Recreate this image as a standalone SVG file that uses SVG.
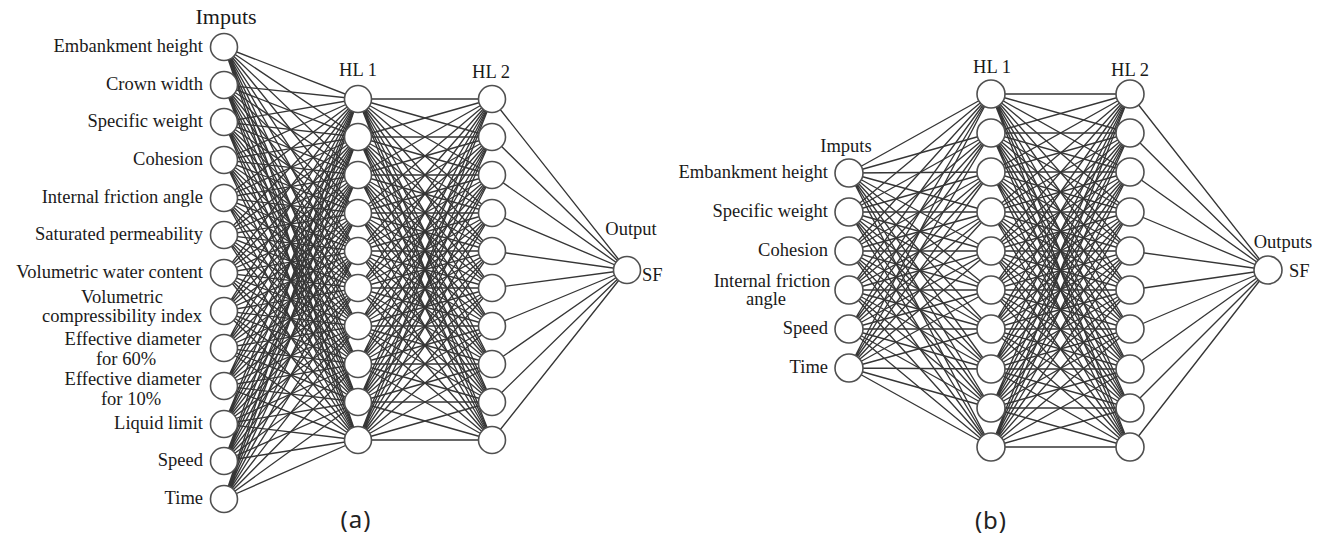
<svg xmlns="http://www.w3.org/2000/svg" width="1326" height="538" viewBox="0 0 1326 538">
<style>
.c{fill:none;stroke:#363636;stroke-width:1.35}
.n{fill:#fff;stroke:#505050;stroke-width:1.6}
.t{font-family:"Liberation Serif","Times New Roman",serif;font-size:18.5px;fill:#1a1a1a}
.e{text-anchor:end}
.m{text-anchor:middle}
.s{font-family:"Noto Sans","Open Sans",sans-serif;font-size:24px;fill:#222;text-anchor:middle;letter-spacing:1px}
</style>
<rect width="1326" height="538" fill="#fff"/>
<g id="connectors">
<g id="conn-a">
<path class="c" d="M224 47L358 99M224 47L358 137M224 47L358 175M224 47L358 213M224 47L358 251M224 47L358 288M224 47L358 326M224 47L358 364M224 47L358 402M224 47L358 440"/>
<path class="c" d="M224 85L358 99M224 85L358 137M224 85L358 175M224 85L358 213M224 85L358 251M224 85L358 288M224 85L358 326M224 85L358 364M224 85L358 402M224 85L358 440"/>
<path class="c" d="M224 122L358 99M224 122L358 137M224 122L358 175M224 122L358 213M224 122L358 251M224 122L358 288M224 122L358 326M224 122L358 364M224 122L358 402M224 122L358 440"/>
<path class="c" d="M224 160L358 99M224 160L358 137M224 160L358 175M224 160L358 213M224 160L358 251M224 160L358 288M224 160L358 326M224 160L358 364M224 160L358 402M224 160L358 440"/>
<path class="c" d="M224 198L358 99M224 198L358 137M224 198L358 175M224 198L358 213M224 198L358 251M224 198L358 288M224 198L358 326M224 198L358 364M224 198L358 402M224 198L358 440"/>
<path class="c" d="M224 235L358 99M224 235L358 137M224 235L358 175M224 235L358 213M224 235L358 251M224 235L358 288M224 235L358 326M224 235L358 364M224 235L358 402M224 235L358 440"/>
<path class="c" d="M224 273L358 99M224 273L358 137M224 273L358 175M224 273L358 213M224 273L358 251M224 273L358 288M224 273L358 326M224 273L358 364M224 273L358 402M224 273L358 440"/>
<path class="c" d="M224 311L358 99M224 311L358 137M224 311L358 175M224 311L358 213M224 311L358 251M224 311L358 288M224 311L358 326M224 311L358 364M224 311L358 402M224 311L358 440"/>
<path class="c" d="M224 348L358 99M224 348L358 137M224 348L358 175M224 348L358 213M224 348L358 251M224 348L358 288M224 348L358 326M224 348L358 364M224 348L358 402M224 348L358 440"/>
<path class="c" d="M224 386L358 99M224 386L358 137M224 386L358 175M224 386L358 213M224 386L358 251M224 386L358 288M224 386L358 326M224 386L358 364M224 386L358 402M224 386L358 440"/>
<path class="c" d="M224 424L358 99M224 424L358 137M224 424L358 175M224 424L358 213M224 424L358 251M224 424L358 288M224 424L358 326M224 424L358 364M224 424L358 402M224 424L358 440"/>
<path class="c" d="M224 461L358 99M224 461L358 137M224 461L358 175M224 461L358 213M224 461L358 251M224 461L358 288M224 461L358 326M224 461L358 364M224 461L358 402M224 461L358 440"/>
<path class="c" d="M224 499L358 99M224 499L358 137M224 499L358 175M224 499L358 213M224 499L358 251M224 499L358 288M224 499L358 326M224 499L358 364M224 499L358 402M224 499L358 440"/>
<path class="c" d="M358 99L492 99M358 99L492 137M358 99L492 175M358 99L492 213M358 99L492 251M358 99L492 288M358 99L492 326M358 99L492 364M358 99L492 402M358 99L492 440"/>
<path class="c" d="M358 137L492 99M358 137L492 137M358 137L492 175M358 137L492 213M358 137L492 251M358 137L492 288M358 137L492 326M358 137L492 364M358 137L492 402M358 137L492 440"/>
<path class="c" d="M358 175L492 99M358 175L492 137M358 175L492 175M358 175L492 213M358 175L492 251M358 175L492 288M358 175L492 326M358 175L492 364M358 175L492 402M358 175L492 440"/>
<path class="c" d="M358 213L492 99M358 213L492 137M358 213L492 175M358 213L492 213M358 213L492 251M358 213L492 288M358 213L492 326M358 213L492 364M358 213L492 402M358 213L492 440"/>
<path class="c" d="M358 251L492 99M358 251L492 137M358 251L492 175M358 251L492 213M358 251L492 251M358 251L492 288M358 251L492 326M358 251L492 364M358 251L492 402M358 251L492 440"/>
<path class="c" d="M358 288L492 99M358 288L492 137M358 288L492 175M358 288L492 213M358 288L492 251M358 288L492 288M358 288L492 326M358 288L492 364M358 288L492 402M358 288L492 440"/>
<path class="c" d="M358 326L492 99M358 326L492 137M358 326L492 175M358 326L492 213M358 326L492 251M358 326L492 288M358 326L492 326M358 326L492 364M358 326L492 402M358 326L492 440"/>
<path class="c" d="M358 364L492 99M358 364L492 137M358 364L492 175M358 364L492 213M358 364L492 251M358 364L492 288M358 364L492 326M358 364L492 364M358 364L492 402M358 364L492 440"/>
<path class="c" d="M358 402L492 99M358 402L492 137M358 402L492 175M358 402L492 213M358 402L492 251M358 402L492 288M358 402L492 326M358 402L492 364M358 402L492 402M358 402L492 440"/>
<path class="c" d="M358 440L492 99M358 440L492 137M358 440L492 175M358 440L492 213M358 440L492 251M358 440L492 288M358 440L492 326M358 440L492 364M358 440L492 402M358 440L492 440"/>
<path class="c" d="M492 99L627 270M492 137L627 270M492 175L627 270M492 213L627 270M492 251L627 270M492 288L627 270M492 326L627 270M492 364L627 270M492 402L627 270M492 440L627 270"/>
</g>
<g id="conn-b">
<path class="c" d="M849 173L991 94M849 173L991 133M849 173L991 172M849 173L991 212M849 173L991 251M849 173L991 290M849 173L991 329M849 173L991 369M849 173L991 408M849 173L991 447"/>
<path class="c" d="M849 212L991 94M849 212L991 133M849 212L991 172M849 212L991 212M849 212L991 251M849 212L991 290M849 212L991 329M849 212L991 369M849 212L991 408M849 212L991 447"/>
<path class="c" d="M849 251L991 94M849 251L991 133M849 251L991 172M849 251L991 212M849 251L991 251M849 251L991 290M849 251L991 329M849 251L991 369M849 251L991 408M849 251L991 447"/>
<path class="c" d="M849 290L991 94M849 290L991 133M849 290L991 172M849 290L991 212M849 290L991 251M849 290L991 290M849 290L991 329M849 290L991 369M849 290L991 408M849 290L991 447"/>
<path class="c" d="M849 329L991 94M849 329L991 133M849 329L991 172M849 329L991 212M849 329L991 251M849 329L991 290M849 329L991 329M849 329L991 369M849 329L991 408M849 329L991 447"/>
<path class="c" d="M849 368L991 94M849 368L991 133M849 368L991 172M849 368L991 212M849 368L991 251M849 368L991 290M849 368L991 329M849 368L991 369M849 368L991 408M849 368L991 447"/>
<path class="c" d="M991 94L1130 94M991 94L1130 133M991 94L1130 172M991 94L1130 212M991 94L1130 251M991 94L1130 290M991 94L1130 329M991 94L1130 369M991 94L1130 408M991 94L1130 447"/>
<path class="c" d="M991 133L1130 94M991 133L1130 133M991 133L1130 172M991 133L1130 212M991 133L1130 251M991 133L1130 290M991 133L1130 329M991 133L1130 369M991 133L1130 408M991 133L1130 447"/>
<path class="c" d="M991 172L1130 94M991 172L1130 133M991 172L1130 172M991 172L1130 212M991 172L1130 251M991 172L1130 290M991 172L1130 329M991 172L1130 369M991 172L1130 408M991 172L1130 447"/>
<path class="c" d="M991 212L1130 94M991 212L1130 133M991 212L1130 172M991 212L1130 212M991 212L1130 251M991 212L1130 290M991 212L1130 329M991 212L1130 369M991 212L1130 408M991 212L1130 447"/>
<path class="c" d="M991 251L1130 94M991 251L1130 133M991 251L1130 172M991 251L1130 212M991 251L1130 251M991 251L1130 290M991 251L1130 329M991 251L1130 369M991 251L1130 408M991 251L1130 447"/>
<path class="c" d="M991 290L1130 94M991 290L1130 133M991 290L1130 172M991 290L1130 212M991 290L1130 251M991 290L1130 290M991 290L1130 329M991 290L1130 369M991 290L1130 408M991 290L1130 447"/>
<path class="c" d="M991 329L1130 94M991 329L1130 133M991 329L1130 172M991 329L1130 212M991 329L1130 251M991 329L1130 290M991 329L1130 329M991 329L1130 369M991 329L1130 408M991 329L1130 447"/>
<path class="c" d="M991 369L1130 94M991 369L1130 133M991 369L1130 172M991 369L1130 212M991 369L1130 251M991 369L1130 290M991 369L1130 329M991 369L1130 369M991 369L1130 408M991 369L1130 447"/>
<path class="c" d="M991 408L1130 94M991 408L1130 133M991 408L1130 172M991 408L1130 212M991 408L1130 251M991 408L1130 290M991 408L1130 329M991 408L1130 369M991 408L1130 408M991 408L1130 447"/>
<path class="c" d="M991 447L1130 94M991 447L1130 133M991 447L1130 172M991 447L1130 212M991 447L1130 251M991 447L1130 290M991 447L1130 329M991 447L1130 369M991 447L1130 408M991 447L1130 447"/>
<path class="c" d="M1130 94L1268 270M1130 133L1268 270M1130 172L1268 270M1130 212L1268 270M1130 251L1268 270M1130 290L1268 270M1130 329L1268 270M1130 369L1268 270M1130 408L1268 270M1130 447L1268 270"/>
</g>
</g>
<g id="network-a" font-family="Liberation Serif, Times New Roman, serif">
<text class="t m" x="226" y="24" style="font-size:22px">Imputs</text>
<text class="t m" x="358" y="76">HL 1</text>
<text class="t m" x="491" y="78">HL 2</text>
<g id="a-in-1"><circle class="n" cx="224" cy="47" r="13.5"/><text class="t e" x="203" y="52">Embankment height</text></g>
<g id="a-in-2"><circle class="n" cx="224" cy="85" r="13.5"/><text class="t e" x="203" y="90">Crown width</text></g>
<g id="a-in-3"><circle class="n" cx="224" cy="122" r="13.5"/><text class="t e" x="203" y="127">Specific weight</text></g>
<g id="a-in-4"><circle class="n" cx="224" cy="160" r="13.5"/><text class="t e" x="203" y="165">Cohesion</text></g>
<g id="a-in-5"><circle class="n" cx="224" cy="198" r="13.5"/><text class="t e" x="203" y="203">Internal friction angle</text></g>
<g id="a-in-6"><circle class="n" cx="224" cy="235" r="13.5"/><text class="t e" x="203" y="240">Saturated permeability</text></g>
<g id="a-in-7"><circle class="n" cx="224" cy="273" r="13.5"/><text class="t e" x="203" y="278">Volumetric water content</text></g>
<g id="a-in-8"><circle class="n" cx="224" cy="311" r="13.5"/><text class="t m" x="122" y="303">Volumetric</text><text class="t m" x="122" y="322">compressibility index</text></g>
<g id="a-in-9"><circle class="n" cx="224" cy="348" r="13.5"/><text class="t m" x="133" y="345">Effective diameter</text><text class="t m" x="126" y="365">for 60%</text></g>
<g id="a-in-10"><circle class="n" cx="224" cy="386" r="13.5"/><text class="t m" x="133" y="385">Effective diameter</text><text class="t m" x="131" y="405">for 10%</text></g>
<g id="a-in-11"><circle class="n" cx="224" cy="424" r="13.5"/><text class="t e" x="203" y="429">Liquid limit</text></g>
<g id="a-in-12"><circle class="n" cx="224" cy="461" r="13.5"/><text class="t e" x="203" y="466">Speed</text></g>
<g id="a-in-13"><circle class="n" cx="224" cy="499" r="13.5"/><text class="t e" x="203" y="504">Time</text></g>
<g id="a-h1-1"><circle class="n" cx="358" cy="99" r="13.5"/></g>
<g id="a-h1-2"><circle class="n" cx="358" cy="137" r="13.5"/></g>
<g id="a-h1-3"><circle class="n" cx="358" cy="175" r="13.5"/></g>
<g id="a-h1-4"><circle class="n" cx="358" cy="213" r="13.5"/></g>
<g id="a-h1-5"><circle class="n" cx="358" cy="251" r="13.5"/></g>
<g id="a-h1-6"><circle class="n" cx="358" cy="288" r="13.5"/></g>
<g id="a-h1-7"><circle class="n" cx="358" cy="326" r="13.5"/></g>
<g id="a-h1-8"><circle class="n" cx="358" cy="364" r="13.5"/></g>
<g id="a-h1-9"><circle class="n" cx="358" cy="402" r="13.5"/></g>
<g id="a-h1-10"><circle class="n" cx="358" cy="440" r="13.5"/></g>
<g id="a-h2-1"><circle class="n" cx="492" cy="99" r="13.5"/></g>
<g id="a-h2-2"><circle class="n" cx="492" cy="137" r="13.5"/></g>
<g id="a-h2-3"><circle class="n" cx="492" cy="175" r="13.5"/></g>
<g id="a-h2-4"><circle class="n" cx="492" cy="213" r="13.5"/></g>
<g id="a-h2-5"><circle class="n" cx="492" cy="251" r="13.5"/></g>
<g id="a-h2-6"><circle class="n" cx="492" cy="288" r="13.5"/></g>
<g id="a-h2-7"><circle class="n" cx="492" cy="326" r="13.5"/></g>
<g id="a-h2-8"><circle class="n" cx="492" cy="364" r="13.5"/></g>
<g id="a-h2-9"><circle class="n" cx="492" cy="402" r="13.5"/></g>
<g id="a-h2-10"><circle class="n" cx="492" cy="440" r="13.5"/></g>
<g id="a-out"><circle class="n" cx="627" cy="270" r="13.5"/><text class="t m" x="631" y="235">Output</text><text class="t" x="642" y="281">SF</text></g>
<text class="s" x="356" y="528">(a)</text>
</g>
<g id="network-b" font-family="Liberation Serif, Times New Roman, serif">
<text class="t m" x="846" y="152">Imputs</text>
<text class="t m" x="992" y="73">HL 1</text>
<text class="t m" x="1130" y="76">HL 2</text>
<g id="b-in-1"><circle class="n" cx="849" cy="173" r="14"/><text class="t e" x="828" y="178">Embankment height</text></g>
<g id="b-in-2"><circle class="n" cx="849" cy="212" r="14"/><text class="t e" x="828" y="217">Specific weight</text></g>
<g id="b-in-3"><circle class="n" cx="849" cy="251" r="14"/><text class="t e" x="828" y="256">Cohesion</text></g>
<g id="b-in-4"><circle class="n" cx="849" cy="290" r="14"/><text class="t m" x="772" y="287">Internal friction</text><text class="t m" x="766" y="305">angle</text></g>
<g id="b-in-5"><circle class="n" cx="849" cy="329" r="14"/><text class="t e" x="828" y="334">Speed</text></g>
<g id="b-in-6"><circle class="n" cx="849" cy="368" r="14"/><text class="t e" x="828" y="373">Time</text></g>
<g id="b-h1-1"><circle class="n" cx="991" cy="94" r="14"/></g>
<g id="b-h1-2"><circle class="n" cx="991" cy="133" r="14"/></g>
<g id="b-h1-3"><circle class="n" cx="991" cy="172" r="14"/></g>
<g id="b-h1-4"><circle class="n" cx="991" cy="212" r="14"/></g>
<g id="b-h1-5"><circle class="n" cx="991" cy="251" r="14"/></g>
<g id="b-h1-6"><circle class="n" cx="991" cy="290" r="14"/></g>
<g id="b-h1-7"><circle class="n" cx="991" cy="329" r="14"/></g>
<g id="b-h1-8"><circle class="n" cx="991" cy="369" r="14"/></g>
<g id="b-h1-9"><circle class="n" cx="991" cy="408" r="14"/></g>
<g id="b-h1-10"><circle class="n" cx="991" cy="447" r="14"/></g>
<g id="b-h2-1"><circle class="n" cx="1130" cy="94" r="14"/></g>
<g id="b-h2-2"><circle class="n" cx="1130" cy="133" r="14"/></g>
<g id="b-h2-3"><circle class="n" cx="1130" cy="172" r="14"/></g>
<g id="b-h2-4"><circle class="n" cx="1130" cy="212" r="14"/></g>
<g id="b-h2-5"><circle class="n" cx="1130" cy="251" r="14"/></g>
<g id="b-h2-6"><circle class="n" cx="1130" cy="290" r="14"/></g>
<g id="b-h2-7"><circle class="n" cx="1130" cy="329" r="14"/></g>
<g id="b-h2-8"><circle class="n" cx="1130" cy="369" r="14"/></g>
<g id="b-h2-9"><circle class="n" cx="1130" cy="408" r="14"/></g>
<g id="b-h2-10"><circle class="n" cx="1130" cy="447" r="14"/></g>
<g id="b-out"><circle class="n" cx="1268" cy="270" r="14"/><text class="t m" x="1283" y="248">Outputs</text><text class="t" x="1289" y="277">SF</text></g>
<text class="s" x="991" y="529">(b)</text>
</g>
</svg>
